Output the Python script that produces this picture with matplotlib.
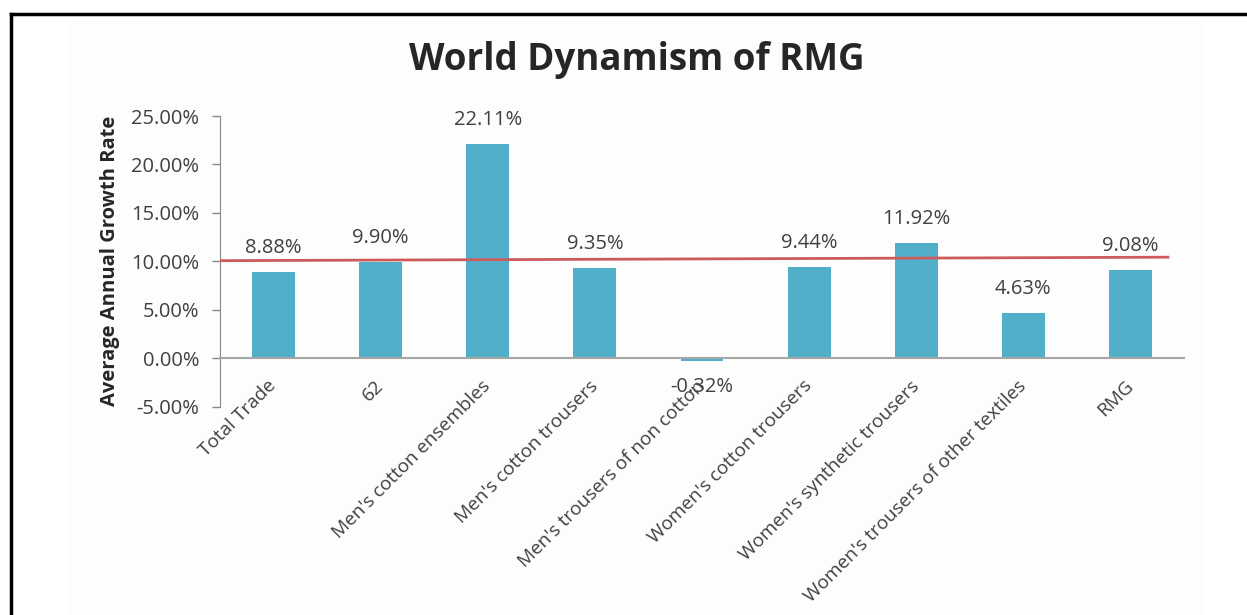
import matplotlib
matplotlib.use("Agg")
import matplotlib.pyplot as plt
from matplotlib.lines import Line2D
from matplotlib.patches import Rectangle

categories = ["Total Trade", "62", "Men's cotton ensembles", "Men's cotton trousers",
              "Men's trousers of non cotton", "Women's cotton trousers",
              "Women's synthetic trousers", "Women's trousers of other textiles", "RMG"]
growth = [8.88, 9.90, 22.11, 9.35, -0.32, 9.44, 11.92, 4.63, 9.08]
value_labels = ["8.88%", "9.90%", "22.11%", "9.35%", "-0.32%", "9.44%", "11.92%", "4.63%", "9.08%"]
yticks = [-5, 0, 5, 10, 15, 20, 25]
ytick_labels = ["-5.00%", "0.00%", "5.00%", "10.00%", "15.00%", "20.00%", "25.00%"]
ref_line_x = [-0.5, 8.35]
ref_line_y = [10.07, 10.43]

plt.rcParams['font.family'] = ['Open Sans', 'DejaVu Sans']

fig = plt.figure(figsize=(12.47, 6.15), dpi=100)
fig.patch.set_facecolor('white')

# light panel and frame lines
fig.add_artist(Rectangle((68/1247, 0), (1203-68)/1247, 1 - 20/615, transform=fig.transFigure,
                         facecolor='#FDFDFD', edgecolor='none', zorder=0))
fig.add_artist(Line2D([10.5/1247, 1], [1 - 13.5/615, 1 - 13.5/615], transform=fig.transFigure,
                      color='black', lw=2.5))
fig.add_artist(Line2D([10.5/1247, 10.5/1247], [0, 1 - 13.5/615], transform=fig.transFigure,
                      color='black', lw=2.5))

ax = fig.add_axes([220/1247, 1 - 406.7/615, (1184-220)/1247, (406.7-116)/615])
ax.set_facecolor('none')
for s in ['top', 'right']:
    ax.spines[s].set_visible(False)
ax.spines['bottom'].set_position(('data', 0))
ax.spines['bottom'].set_color('#A6A6A6')
ax.spines['bottom'].set_linewidth(1.5)
ax.spines['left'].set_color('#888888')

x = list(range(len(categories)))
ax.bar(x, growth, width=0.4, color='#52AFC9', zorder=2)
ax.plot(ref_line_x, ref_line_y, color='#CD5B5B', lw=2, zorder=3)

ax.set_xlim(-0.5, len(categories) - 0.5)
ax.set_ylim(-5, 25)
ax.set_yticks(yticks)
ax.set_yticklabels(ytick_labels, fontsize=14.5, color='#404040')
ax.tick_params(axis='y', direction='out', length=6, width=1, color='#888888', pad=9)
ax.set_xticks(x)
ax.set_xticklabels(categories, rotation=45, ha='right', va='center', rotation_mode='anchor',
                   fontsize=13.7, color='#404040')
ax.tick_params(axis='x', length=0, pad=18)

ax.set_ylabel("Average Annual Growth Rate", fontsize=14.5, fontweight='bold', color='#262626', labelpad=8)

for xi, v, lab in zip(x, growth, value_labels):
    off = 24 if v >= 0 else -26
    ax.annotate(lab, (xi, v), xytext=(0, off), textcoords='offset pixels',
                ha='center', va='center', fontsize=14.5, color='#404040', zorder=4)

fig.text(637/1247, 1 - 60/615, "World Dynamism of RMG", ha='center', va='center',
         fontsize=26.5, fontweight='bold', color='#262626')

fig.savefig("out.png", dpi=100)
